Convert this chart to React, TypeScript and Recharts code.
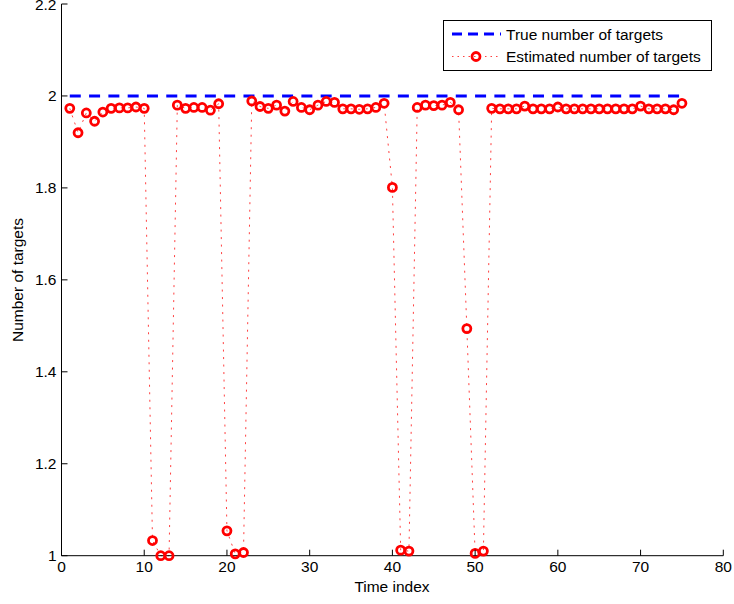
import React from 'react';
import { ComposedChart, Line, XAxis, YAxis, Legend } from 'recharts';

const timeIndex: number[] = Array.from({ length: 75 }, (_, i) => i + 1);

const trueTargets: number[] = timeIndex.map(() => 2);

const estimatedTargets: number[] = [
  1.973, 1.920, 1.963, 1.945, 1.965, 1.973, 1.974, 1.974, 1.976, 1.973,
  1.033, 1.000, 1.000, 1.980, 1.973, 1.975, 1.975, 1.969, 1.983, 1.054,
  1.004, 1.007, 1.989, 1.977, 1.973, 1.980, 1.967, 1.988, 1.975, 1.970,
  1.980, 1.988, 1.986, 1.972, 1.972, 1.971, 1.972, 1.975, 1.984, 1.801,
  1.012, 1.010, 1.975, 1.980, 1.979, 1.980, 1.986, 1.970, 1.494, 1.005,
  1.010, 1.973, 1.972, 1.972, 1.972, 1.978, 1.972, 1.972, 1.972, 1.976,
  1.972, 1.972, 1.972, 1.972, 1.972, 1.972, 1.972, 1.972, 1.972, 1.978,
  1.972, 1.972, 1.972, 1.970, 1.984,
];

const xTicks: number[] = [0, 10, 20, 30, 40, 50, 60, 70, 80];
const yTicks: number[] = [1, 1.2, 1.4, 1.6, 1.8, 2, 2.2];
const yTickLabels: string[] = ['1', '1.2', '1.4', '1.6', '1.8', '2', '2.2'];

const seriesNames = {
  truth: 'True number of targets',
  est: 'Estimated number of targets',
};

const data = timeIndex.map((t, i) => ({
  t,
  truth: trueTargets[i],
  est: estimatedTargets[i],
}));

const FONT = '"Liberation Sans", Arial, Helvetica, sans-serif';
const FS = 15.5;
const TL = 6;

const BottomTick = (props: any) => {
  const { x, y, payload } = props;
  return (
    <g>
      <line x1={x} x2={x} y1={y} y2={y - TL} stroke="#000" strokeWidth={1} />
      <text x={x} y={y + 16.5} textAnchor="middle" fontFamily={FONT} fontSize={FS} fill="#000">
        {String(payload.value)}
      </text>
    </g>
  );
};

const TopTick = (props: any) => {
  const { x, y } = props;
  return <line x1={x} x2={x} y1={y} y2={y + TL} stroke="#000" strokeWidth={1} />;
};

const LeftTick = (props: any) => {
  const { x, y, payload } = props;
  const idx = yTicks.findIndex((v) => Math.abs(v - payload.value) < 1e-9);
  const label = idx >= 0 ? yTickLabels[idx] : String(payload.value);
  return (
    <g>
      <line x1={x} x2={x + TL} y1={y} y2={y} stroke="#000" strokeWidth={1} />
      <text x={x - 5} y={y + 5.5} textAnchor="end" fontFamily={FONT} fontSize={FS} fill="#000">
        {label}
      </text>
    </g>
  );
};

const RightTick = (props: any) => {
  const { x, y } = props;
  return <line x1={x} x2={x - TL} y1={y} y2={y} stroke="#000" strokeWidth={1} />;
};

const XLabel = () => (
  <text x={392} y={592} textAnchor="middle" fontFamily={FONT} fontSize={FS} fill="#000">
    Time index
  </text>
);

const YLabel = () => (
  <text
    x={22.5}
    y={280}
    transform="rotate(-90 22.5 280)"
    textAnchor="middle"
    fontFamily={FONT}
    fontSize={FS}
    fill="#000"
  >
    Number of targets
  </text>
);

const LegendBox = () => (
  <svg width={269} height={51} style={{ display: 'block' }}>
    <rect x={0.5} y={0.5} width={268} height={50} fill="#fff" stroke="#000" strokeWidth={1} />
    <line x1={9} x2={58} y1={14} y2={14} stroke="#0000ff" strokeWidth={3} strokeDasharray="10 6" />
    <text x={63} y={19.5} fontFamily={FONT} fontSize={FS} fill="#000">
      {seriesNames.truth}
    </text>
    <line x1={9} x2={58} y1={36.5} y2={36.5} stroke="#ff4040" strokeWidth={1} strokeDasharray="1.5 4" />
    <circle cx={33} cy={36.5} r={4} fill="none" stroke="#ff0000" strokeWidth={2.8} />
    <text x={63} y={42} fontFamily={FONT} fontSize={FS} fill="#000">
      {seriesNames.est}
    </text>
  </svg>
);

export default function App() {
  return (
    <div style={{ position: 'absolute', left: 0, top: 0, background: '#fff' }}>
      <ComposedChart
        width={734}
        height={604}
        data={data}
        margin={{ top: 4, right: 10.7, bottom: 0, left: 0 }}
      >
        <XAxis
          xAxisId="bottom"
          dataKey="t"
          type="number"
          domain={[0, 80]}
          ticks={xTicks}
          interval={0}
          height={48.3}
          tickSize={0}
          tickMargin={0}
          tickLine={false}
          axisLine={{ stroke: '#000', strokeWidth: 1 }}
          tick={<BottomTick />}
          label={<XLabel />}
        />
        <XAxis
          xAxisId="top"
          orientation="top"
          dataKey="t"
          type="number"
          domain={[0, 80]}
          ticks={xTicks}
          interval={0}
          height={0}
          tickSize={0}
          tickMargin={0}
          tickLine={false}
          axisLine={{ stroke: '#000', strokeWidth: 1 }}
          tick={<TopTick />}
        />
        <YAxis
          yAxisId="left"
          type="number"
          domain={[1, 2.2]}
          ticks={yTicks}
          interval={0}
          width={61.5}
          tickSize={0}
          tickMargin={0}
          tickLine={false}
          axisLine={{ stroke: '#000', strokeWidth: 1 }}
          tick={<LeftTick />}
          label={<YLabel />}
        />
        <YAxis
          yAxisId="right"
          orientation="right"
          type="number"
          domain={[1, 2.2]}
          ticks={yTicks}
          interval={0}
          width={0}
          tickSize={0}
          tickMargin={0}
          tickLine={false}
          axisLine={{ stroke: '#000', strokeWidth: 1 }}
          tick={<RightTick />}
        />
        <Legend
          layout="horizontal"
          verticalAlign="middle"
          align="center"
          wrapperStyle={{ left: 443, top: 20, width: 269, height: 51 }}
          content={() => <LegendBox />}
        />
        <Line
          xAxisId="bottom"
          yAxisId="left"
          type="linear"
          dataKey="truth"
          name={seriesNames.truth}
          stroke="#0000ff"
          strokeWidth={3}
          strokeDasharray="11 8.3"
          dot={false}
          activeDot={false}
          isAnimationActive={false}
        />
        <Line
          xAxisId="bottom"
          yAxisId="left"
          type="linear"
          dataKey="est"
          name={seriesNames.est}
          stroke="#ff4040"
          strokeWidth={1}
          strokeDasharray="2 5.5"
          dot={{ r: 4, stroke: '#ff0000', strokeWidth: 2.8, fill: 'none', strokeDasharray: '' }}
          activeDot={false}
          isAnimationActive={false}
        />
      </ComposedChart>
    </div>
  );
}
